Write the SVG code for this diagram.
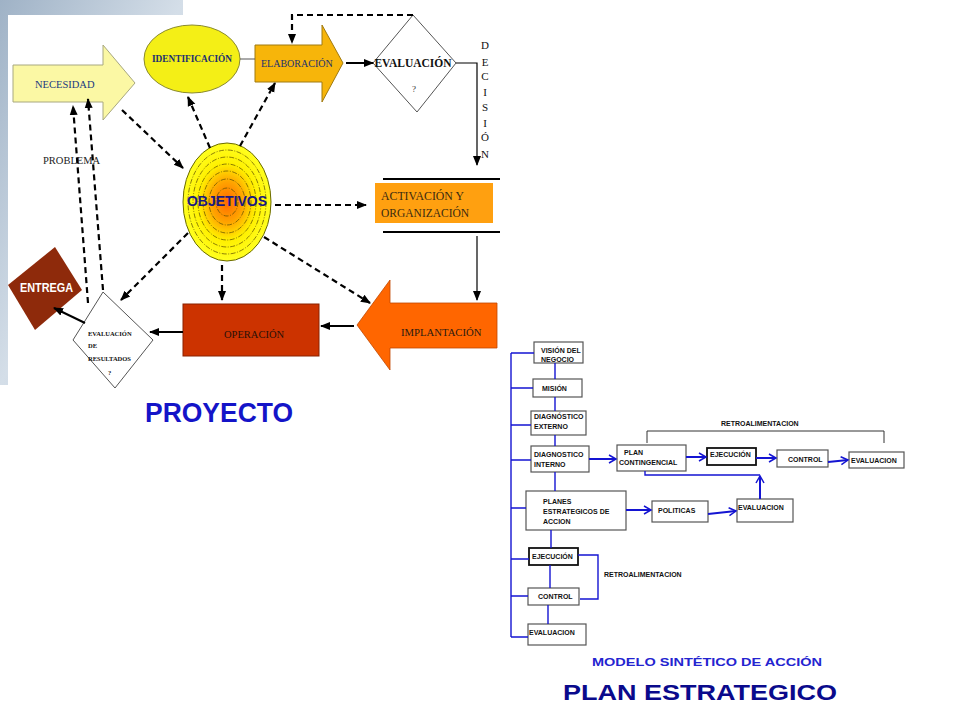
<svg xmlns="http://www.w3.org/2000/svg" width="960" height="720" viewBox="0 0 960 720">
<defs>
<linearGradient id="bg" x1="0" y1="0" x2="1" y2="1">
<stop offset="0" stop-color="#9fb2c6"/><stop offset="0.5" stop-color="#d4dee8"/><stop offset="1" stop-color="#b8c6d4"/>
</linearGradient>
<radialGradient id="objg" cx="0.5" cy="0.5" r="0.5">
<stop offset="0" stop-color="#ff6a00"/><stop offset="0.35" stop-color="#ffa400"/><stop offset="0.65" stop-color="#fff000"/><stop offset="1" stop-color="#ffff20"/>
</radialGradient>
<marker id="ah" markerUnits="userSpaceOnUse" markerWidth="10" markerHeight="10" refX="9" refY="5" orient="auto">
<path d="M0,1 L10,5 L0,9 Z" fill="#000"/>
</marker>
<marker id="bh" markerUnits="userSpaceOnUse" markerWidth="10" markerHeight="10" refX="8" refY="5" orient="auto">
<path d="M1,1 L8,5 L1,9" fill="none" stroke="#1414d2" stroke-width="1.5"/>
</marker>
<style>
.ser{font-family:"Liberation Serif","Times New Roman",serif}
.san{font-family:"Liberation Sans",Arial,sans-serif}
.dash{fill:none;stroke:#000;stroke-width:2.2;stroke-dasharray:6 4;marker-end:url(#ah)}
.sol{fill:none;stroke:#000;stroke-width:2;marker-end:url(#ah)}
.thin{fill:none;stroke:#000;stroke-width:1.2}
.bl{fill:none;stroke:#1414d2;stroke-width:1.4}
.ba{fill:none;stroke:#1414d2;stroke-width:2;marker-end:url(#bh)}
.box{fill:#fff;stroke:#555;stroke-width:1.2}
.boxk{fill:#fff;stroke:#111;stroke-width:1.8}
.ft{font-family:"Liberation Sans",Arial,sans-serif;font-size:7px;font-weight:bold;fill:#111}
</style>
</defs>
<rect width="960" height="720" fill="#fff"/>
<path d="M0,0 H183 V15 H8 V385 H0 Z" fill="url(#bg)"/>

<g id="necesidad">
<path d="M13,65 H103 V45 L135,83 L103,120 V102 H13 Z" fill="#fbf8a4" stroke="#a8a880" stroke-width="1"/>
<text x="35" y="88" class="ser" font-size="10.5" fill="#203880">NECESIDAD</text>
</g>
<g id="identificacion">
<ellipse cx="192" cy="59" rx="48" ry="34" fill="#f4ef16" stroke="#8a8a30" stroke-width="1"/>
<text x="192" y="62" class="ser" font-size="9.3" font-weight="bold" fill="#203070" text-anchor="middle">IDENTIFICACIÓN</text>
</g>
<g id="elaboracion">
<path d="M255,45 H322 V25 L343,63 L322,102 V82 H255 Z" fill="#f7b50a" stroke="#a07a10" stroke-width="1"/>
<text x="261" y="66.5" class="ser" font-size="10" fill="#203070">ELABORACIÓN</text>
</g>
<g id="evaluacion">
<path d="M413,15 L456,63 L417,112 L373,63 Z" fill="#fff" stroke="#555" stroke-width="1"/>
<text x="413" y="67" class="ser" font-size="11.5" font-weight="bold" fill="#111" text-anchor="middle">EVALUACIÓN</text>
<text x="414" y="92" class="ser" font-size="9" fill="#333" text-anchor="middle">?</text>
</g>
<g id="decision" class="ser" font-size="11" fill="#111" text-anchor="middle">
<text x="485" y="49">D</text><text x="485" y="66">E</text><text x="485" y="80">C</text><text x="485" y="96">I</text>
<text x="485" y="111">S</text><text x="485" y="127">I</text><text x="485" y="141">Ó</text><text x="485" y="158">N</text>
</g>
<g id="activacion">
<rect x="375" y="183" width="118" height="40" fill="#ffa010"/>
<text x="381" y="200" class="ser" font-size="11.8" fill="#3a2a10">ACTIVACIÓN Y</text>
<text x="381" y="217" class="ser" font-size="11.5" fill="#3a2a10">ORGANIZACIÓN</text>
</g>
<g id="implantacion">
<path d="M497,303 H390 V280 L357,325 L390,370 V348 H497 Z" fill="#ff6600" stroke="#c04800" stroke-width="0.8"/>
<text x="401" y="336" class="ser" font-size="10.7" fill="#2a1a10">IMPLANTACIÓN</text>
</g>
<g id="operacion">
<rect x="183" y="304" width="136" height="52" fill="#cc3300" stroke="#8a2200" stroke-width="1"/>
<text x="224" y="338" class="ser" font-size="10.5" fill="#2a1008">OPERACIÓN</text>
</g>
<g id="evaluacion-resultados">
<path d="M103,292 L153,340 L115,388 L73,340 Z" fill="#fff" stroke="#555" stroke-width="1"/>
<g class="ser" font-size="6.5" font-weight="bold" fill="#111">
<text x="88" y="336">EVALUACIÓN</text>
<text x="88" y="348">DE</text>
<text x="88" y="361">RESULTADOS</text>
<text x="108" y="375">?</text>
</g>
</g>
<g id="entrega">
<path d="M55,247 L82,290 L35,330 L8,285 Z" fill="#8e2a0b"/>
<text x="20" y="292" class="san" font-size="12" font-weight="bold" fill="#fff" textLength="53" lengthAdjust="spacingAndGlyphs">ENTREGA</text>
</g>
<g id="problema">
<text x="43" y="164" class="ser" font-size="10.5" fill="#222">PROBLEMA</text>
</g>
<g id="objetivos">
<ellipse cx="227" cy="202" rx="44" ry="59" fill="url(#objg)" stroke="#6a6a00" stroke-width="1"/>
<g fill="none" stroke="#5a4a00" stroke-width="0.7" stroke-dasharray="5 1.5 1 1.5">
<ellipse cx="227" cy="202" rx="39" ry="52"/>
<ellipse cx="227" cy="202" rx="34" ry="45"/>
<ellipse cx="227" cy="202" rx="29" ry="38"/>
<ellipse cx="227" cy="202" rx="24" ry="31"/>
<ellipse cx="227" cy="202" rx="18" ry="23"/>
<ellipse cx="227" cy="202" rx="11" ry="14"/>
</g>
<text x="187" y="206" class="san" font-size="15" font-weight="bold" fill="#1a1a80" textLength="80" lengthAdjust="spacingAndGlyphs">OBJETIVOS</text>
</g>
<g id="proyecto">
<text x="145" y="422" class="san" font-size="27" font-weight="bold" fill="#1414c8" textLength="148" lengthAdjust="spacingAndGlyphs">PROYECTO</text>
</g>

<g id="vision"><rect x="534" y="342" width="49" height="21" class="box"/>
<text x="541" y="352.5" class="ft">VISIÓN DEL</text><text x="541" y="361.5" class="ft">NEGOCIO</text></g>
<g id="mision"><rect x="533" y="379" width="49" height="18" class="box"/>
<text x="542" y="390.5" class="ft">MISIÓN</text></g>
<g id="diag-externo"><rect x="531" y="411" width="55" height="24" class="box"/>
<text x="534" y="418.5" class="ft">DIAGNÓSTICO</text><text x="534" y="428.5" class="ft">EXTERNO</text></g>
<g id="diag-interno"><rect x="531" y="446" width="58" height="26" class="box"/>
<text x="534" y="456.5" class="ft">DIAGNOSTICO</text><text x="534" y="466.5" class="ft">INTERNO</text></g>
<g id="plan-contingencial"><rect x="617" y="445" width="69" height="26" class="box"/>
<text x="624" y="454.5" class="ft">PLAN</text><text x="619" y="464.5" class="ft">CONTINGENCIAL</text></g>
<g id="ejecucion-1"><rect x="707" y="448" width="49" height="17" class="boxk"/>
<text x="710" y="456.5" class="ft">EJECUCIÓN</text></g>
<g id="control-1"><rect x="777" y="450" width="51" height="17" class="box"/>
<text x="788" y="461.5" class="ft">CONTROL</text></g>
<g id="evaluacion-1"><rect x="849" y="452" width="55" height="16" class="box"/>
<text x="851" y="462.5" class="ft">EVALUACION</text></g>
<g id="retro-1"><text x="721" y="425.5" class="ft">RETROALIMENTACION</text></g>
<g id="planes"><rect x="526" y="491" width="100" height="39" class="box"/>
<text x="543" y="503.5" class="ft">PLANES</text><text x="543" y="513.5" class="ft">ESTRATEGICOS DE</text><text x="543" y="523.5" class="ft">ACCION</text></g>
<g id="politicas"><rect x="652" y="501" width="56" height="21" class="box"/>
<text x="658" y="512.5" class="ft">POLITICAS</text></g>
<g id="evaluacion-2"><rect x="737" y="499" width="56" height="23" class="box"/>
<text x="738" y="509.5" class="ft">EVALUACION</text></g>
<g id="ejecucion-2"><rect x="529" y="548" width="49" height="17" class="boxk"/>
<text x="532" y="559" class="ft">EJECUCIÓN</text></g>
<g id="control-2"><rect x="528" y="588" width="51" height="17" class="box"/>
<text x="538" y="598.5" class="ft">CONTROL</text></g>
<g id="evaluacion-3"><rect x="528" y="624" width="58" height="21" class="box"/>
<text x="529" y="634.5" class="ft">EVALUACION</text></g>
<g id="retro-2"><text x="604" y="576.5" class="ft">RETROALIMENTACION</text></g>
<g id="titulos">
<text x="592" y="666" class="san" font-size="10.5" font-weight="bold" fill="#2424d0" textLength="230" lengthAdjust="spacingAndGlyphs">MODELO SINTÉTICO DE ACCIÓN</text>
<text x="563" y="700" class="san" font-size="22" font-weight="bold" fill="#0a0a8c" textLength="274" lengthAdjust="spacingAndGlyphs">PLAN ESTRATEGICO</text>
</g>

<g id="connectors">
<line x1="240" y1="59" x2="255" y2="59" stroke="#555" stroke-width="1"/>
<line x1="346" y1="63" x2="373" y2="63" class="sol"/>
<path d="M413,15 H292 V43" class="dash"/>
<path d="M456,63 H477 V165" class="thin" marker-end="url(#ah)"/>
<line x1="477" y1="236" x2="477" y2="300" class="thin" stroke-width="1.5" marker-end="url(#ah)"/>
<line x1="354" y1="326" x2="321" y2="326" class="sol"/>
<line x1="183" y1="332" x2="150" y2="332" class="sol"/>
<line x1="85" y1="323" x2="54" y2="308" class="sol"/>
<line x1="88" y1="303" x2="73" y2="106" class="dash"/>
<line x1="103" y1="290" x2="88" y2="99" class="dash"/>
<line x1="122" y1="110" x2="183" y2="168" class="dash"/>
<line x1="210" y1="148" x2="188" y2="97" class="dash"/>
<line x1="240" y1="146" x2="275" y2="83" class="dash"/>
<line x1="275" y1="205" x2="366" y2="205" class="dash"/>
<line x1="264" y1="237" x2="370" y2="303" class="dash"/>
<line x1="222" y1="265" x2="222" y2="300" class="dash"/>
<line x1="188" y1="233" x2="121" y2="300" class="dash"/>
<line x1="383" y1="179" x2="500" y2="179" stroke="#000" stroke-width="2"/>
<line x1="383" y1="232" x2="500" y2="232" stroke="#000" stroke-width="2"/>

<path d="M511,353 V637" class="bl"/>
<path d="M511,353 H534 M511,388 H533 M511,425 H531 M511,460 H531 M511,508 H526 M511,559 H529 M511,596 H528 M511,637 H528" class="bl"/>
<path d="M555,363 V379 M555,397 V411 M555,435 V446 M555,472 V491 M551,530 V548 M550,565 V588 M548,605 V624" class="bl"/>
<line x1="589" y1="459" x2="616" y2="459" class="ba"/>
<line x1="686" y1="457" x2="706" y2="457" class="ba"/>
<line x1="756" y1="458" x2="776" y2="458" class="ba"/>
<line x1="828" y1="462" x2="848" y2="460" class="ba"/>
<line x1="626" y1="510" x2="651" y2="510" class="ba"/>
<line x1="708" y1="514" x2="736" y2="511" class="ba"/>
<path d="M645,471 V475 H760" class="bl"/>
<line x1="760" y1="499" x2="760" y2="476" class="ba" stroke-width="1.4"/>
<path d="M647,443 V431 H884 V443" fill="none" stroke="#333" stroke-width="1"/>
<path d="M578,555 H598 V599 H580" class="bl"/>
</g>
</svg>
